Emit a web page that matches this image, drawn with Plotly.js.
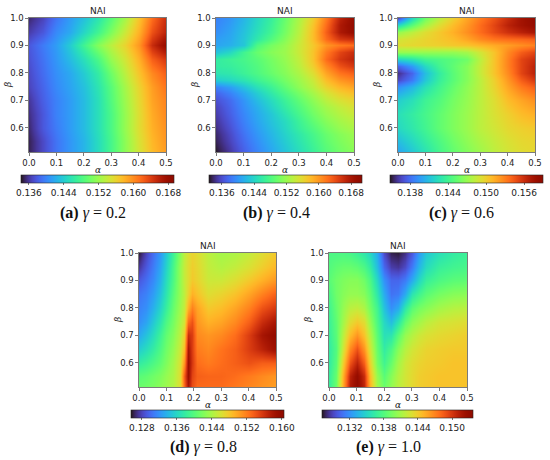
<!DOCTYPE html>
<html><head><meta charset="utf-8">
<script src="https://cdn.plot.ly/plotly-3.0.1.min.js"></script>
<style>html,body{margin:0;padding:0;background:#fff}#chart{width:550px;height:460px}</style>
</head><body><div id="chart"></div>
<script>
// ---------- data ----------
const alphaTicks = [0, 0.1, 0.2, 0.3, 0.4, 0.5];
const alphaTickText = ['0.0', '0.1', '0.2', '0.3', '0.4', '0.5'];
const betaTicks = [0.6, 0.7, 0.8, 0.9, 1.0];
const betaTickText = ['0.6', '0.7', '0.8', '0.9', '1.0'];
const panelLabels = ['a', 'b', 'c', 'd', 'e'];
const gammaValues = ['0.2', '0.4', '0.6', '0.8', '1.0'];

const alphaA = [0, 0.05, 0.1, 0.15, 0.2, 0.25, 0.3, 0.35, 0.4, 0.45, 0.5];
const betaA = [0.5, 0.55, 0.6, 0.65, 0.7, 0.75, 0.8, 0.85, 0.9, 0.95, 1.0];
const naiA = [
 [0.1349,0.1370,0.1391,0.1409,0.1426,0.1451,0.1479,0.1514,0.1546,0.1574,0.1591],
 [0.1349,0.1370,0.1391,0.1409,0.1426,0.1451,0.1479,0.1514,0.1549,0.1577,0.1595],
 [0.1353,0.1377,0.1395,0.1412,0.1430,0.1454,0.1482,0.1518,0.1553,0.1581,0.1598],
 [0.1356,0.1377,0.1398,0.1412,0.1430,0.1454,0.1482,0.1518,0.1553,0.1584,0.1602],
 [0.1360,0.1381,0.1398,0.1412,0.1430,0.1454,0.1486,0.1521,0.1556,0.1588,0.1605],
 [0.1367,0.1384,0.1402,0.1416,0.1433,0.1458,0.1489,0.1525,0.1560,0.1591,0.1612],
 [0.1370,0.1388,0.1405,0.1419,0.1440,0.1465,0.1500,0.1535,0.1570,0.1602,0.1623],
 [0.1374,0.1391,0.1409,0.1430,0.1454,0.1482,0.1518,0.1546,0.1581,0.1623,0.1644],
 [0.1377,0.1395,0.1412,0.1440,0.1475,0.1510,0.1535,0.1560,0.1595,0.1651,0.1682],
 [0.1363,0.1377,0.1402,0.1419,0.1447,0.1475,0.1507,0.1542,0.1581,0.1630,0.1658],
 [0.1353,0.1367,0.1391,0.1412,0.1433,0.1458,0.1489,0.1525,0.1570,0.1616,0.1651]
];

const alphaB = [0, 0.05, 0.1, 0.15, 0.2, 0.25, 0.3, 0.35, 0.4, 0.45, 0.5];
const betaB = [0.5, 0.525, 0.55, 0.575, 0.6, 0.625, 0.65, 0.675, 0.7, 0.725, 0.75,
               0.775, 0.8, 0.825, 0.85, 0.875, 0.9, 0.925, 0.95, 0.975, 1.0];
const naiB = [
 [0.1328,0.1347,0.1370,0.1389,0.1408,0.1427,0.1445,0.1464,0.1483,0.1499,0.1510],
 [0.1332,0.1351,0.1373,0.1392,0.1411,0.1430,0.1449,0.1468,0.1487,0.1502,0.1514],
 [0.1336,0.1355,0.1377,0.1396,0.1415,0.1434,0.1453,0.1472,0.1491,0.1506,0.1518],
 [0.1339,0.1358,0.1381,0.1400,0.1419,0.1438,0.1457,0.1476,0.1495,0.1510,0.1521],
 [0.1343,0.1362,0.1385,0.1404,0.1423,0.1442,0.1464,0.1483,0.1502,0.1518,0.1529],
 [0.1347,0.1366,0.1389,0.1408,0.1427,0.1445,0.1468,0.1491,0.1510,0.1525,0.1536],
 [0.1351,0.1370,0.1392,0.1411,0.1430,0.1453,0.1476,0.1499,0.1518,0.1533,0.1544],
 [0.1355,0.1373,0.1396,0.1415,0.1438,0.1461,0.1483,0.1506,0.1525,0.1540,0.1552],
 [0.1362,0.1377,0.1400,0.1423,0.1445,0.1468,0.1491,0.1514,0.1536,0.1552,0.1563],
 [0.1373,0.1389,0.1411,0.1434,0.1457,0.1480,0.1502,0.1525,0.1548,0.1567,0.1578],
 [0.1389,0.1404,0.1427,0.1449,0.1468,0.1491,0.1514,0.1536,0.1563,0.1582,0.1593],
 [0.1434,0.1442,0.1453,0.1468,0.1483,0.1502,0.1521,0.1544,0.1578,0.1601,0.1612],
 [0.1453,0.1457,0.1468,0.1480,0.1495,0.1510,0.1529,0.1555,0.1593,0.1620,0.1631],
 [0.1461,0.1464,0.1472,0.1483,0.1499,0.1514,0.1536,0.1567,0.1608,0.1639,0.1654],
 [0.1461,0.1468,0.1476,0.1487,0.1502,0.1518,0.1540,0.1574,0.1624,0.1654,0.1669],
 [0.1427,0.1442,0.1472,0.1495,0.1510,0.1521,0.1544,0.1574,0.1616,0.1646,0.1662],
 [0.1408,0.1415,0.1430,0.1480,0.1502,0.1518,0.1544,0.1571,0.1601,0.1616,0.1624],
 [0.1404,0.1411,0.1430,0.1457,0.1483,0.1510,0.1540,0.1578,0.1624,0.1654,0.1662],
 [0.1396,0.1408,0.1427,0.1449,0.1472,0.1502,0.1536,0.1578,0.1631,0.1677,0.1696],
 [0.1392,0.1404,0.1423,0.1445,0.1468,0.1499,0.1533,0.1574,0.1624,0.1677,0.1699],
 [0.1389,0.1400,0.1419,0.1442,0.1464,0.1495,0.1529,0.1567,0.1616,0.1669,0.1696]
];

const alphaC = [0, 0.05, 0.1, 0.15, 0.2, 0.25, 0.3, 0.35, 0.4, 0.45, 0.5];
const betaC = [0.5, 0.55, 0.6, 0.65, 0.7, 0.75, 0.775, 0.8, 0.825, 0.85, 0.875, 0.9, 0.925, 0.95, 0.975, 1.0];
const naiC = [
 [0.1396,0.1411,0.1425,0.1440,0.1452,0.1462,0.1471,0.1481,0.1488,0.1493,0.1496],
 [0.1409,0.1421,0.1433,0.1445,0.1457,0.1467,0.1476,0.1484,0.1491,0.1496,0.1498],
 [0.1421,0.1430,0.1440,0.1452,0.1462,0.1471,0.1481,0.1488,0.1496,0.1500,0.1503],
 [0.1425,0.1433,0.1442,0.1452,0.1462,0.1471,0.1481,0.1491,0.1500,0.1508,0.1513],
 [0.1416,0.1425,0.1438,0.1447,0.1459,0.1469,0.1481,0.1493,0.1508,0.1517,0.1525],
 [0.1392,0.1406,0.1425,0.1440,0.1454,0.1467,0.1481,0.1498,0.1517,0.1532,0.1542],
 [0.1367,0.1384,0.1413,0.1435,0.1450,0.1464,0.1481,0.1500,0.1522,0.1542,0.1556],
 [0.1358,0.1377,0.1409,0.1433,0.1450,0.1464,0.1484,0.1505,0.1527,0.1551,0.1566],
 [0.1377,0.1396,0.1421,0.1440,0.1452,0.1464,0.1484,0.1505,0.1530,0.1551,0.1566],
 [0.1421,0.1428,0.1440,0.1445,0.1450,0.1457,0.1481,0.1505,0.1530,0.1551,0.1561],
 [0.1469,0.1469,0.1469,0.1469,0.1469,0.1474,0.1488,0.1505,0.1527,0.1542,0.1551],
 [0.1493,0.1496,0.1498,0.1500,0.1503,0.1505,0.1510,0.1515,0.1520,0.1525,0.1530],
 [0.1488,0.1493,0.1498,0.1503,0.1508,0.1517,0.1527,0.1534,0.1537,0.1539,0.1542],
 [0.1469,0.1481,0.1493,0.1503,0.1513,0.1525,0.1537,0.1549,0.1559,0.1566,0.1573],
 [0.1421,0.1450,0.1474,0.1493,0.1508,0.1522,0.1537,0.1551,0.1566,0.1575,0.1583],
 [0.1367,0.1421,0.1457,0.1481,0.1500,0.1517,0.1532,0.1546,0.1561,0.1575,0.1585]
];

const alphaD = [0, 0.025, 0.05, 0.075, 0.1, 0.125, 0.15, 0.165, 0.18, 0.195, 0.21, 0.25, 0.3, 0.35, 0.4, 0.45, 0.5];
const betaD = [0.5, 0.55, 0.6, 0.65, 0.7, 0.75, 0.8, 0.85, 0.9, 0.95, 1.0];
const naiD = [
 [0.1413,0.1416,0.1420,0.1427,0.1434,0.1444,0.1465,0.1528,0.1577,0.1542,0.1528,0.1528,0.1528,0.1521,0.1514,0.1507,0.1500],
 [0.1402,0.1406,0.1413,0.1420,0.1430,0.1441,0.1465,0.1535,0.1588,0.1549,0.1535,0.1532,0.1532,0.1528,0.1521,0.1514,0.1507],
 [0.1378,0.1385,0.1395,0.1406,0.1420,0.1437,0.1462,0.1507,0.1588,0.1556,0.1528,0.1521,0.1528,0.1535,0.1542,0.1535,0.1535],
 [0.1353,0.1364,0.1378,0.1395,0.1413,0.1430,0.1455,0.1486,0.1581,0.1553,0.1521,0.1514,0.1525,0.1535,0.1553,0.1570,0.1588],
 [0.1332,0.1346,0.1364,0.1385,0.1406,0.1423,0.1448,0.1472,0.1563,0.1553,0.1514,0.1507,0.1514,0.1528,0.1553,0.1581,0.1598],
 [0.1318,0.1329,0.1350,0.1371,0.1395,0.1416,0.1441,0.1458,0.1528,0.1542,0.1507,0.1493,0.1500,0.1514,0.1535,0.1563,0.1581],
 [0.1311,0.1318,0.1336,0.1357,0.1381,0.1409,0.1434,0.1451,0.1493,0.1518,0.1500,0.1479,0.1486,0.1500,0.1518,0.1542,0.1556],
 [0.1304,0.1311,0.1325,0.1346,0.1371,0.1402,0.1430,0.1448,0.1472,0.1493,0.1483,0.1465,0.1472,0.1483,0.1500,0.1518,0.1535],
 [0.1290,0.1301,0.1315,0.1336,0.1364,0.1395,0.1430,0.1451,0.1465,0.1479,0.1472,0.1455,0.1455,0.1465,0.1479,0.1493,0.1507],
 [0.1273,0.1290,0.1308,0.1329,0.1357,0.1392,0.1430,0.1451,0.1465,0.1476,0.1469,0.1451,0.1444,0.1451,0.1462,0.1476,0.1490],
 [0.1259,0.1280,0.1301,0.1322,0.1350,0.1385,0.1423,0.1448,0.1462,0.1472,0.1465,0.1448,0.1437,0.1441,0.1451,0.1465,0.1479]
];

const alphaE = [0, 0.025, 0.05, 0.075, 0.1, 0.125, 0.15, 0.175, 0.2, 0.225, 0.25, 0.275, 0.3, 0.325, 0.35, 0.4, 0.45, 0.5];
const betaE = [0.5, 0.55, 0.6, 0.65, 0.7, 0.75, 0.8, 0.85, 0.9, 0.95, 1.0];
const naiE = [
 [0.1367,0.1391,0.1457,0.1516,0.1532,0.1510,0.1452,0.1409,0.1391,0.1404,0.1417,0.1425,0.1433,0.1439,0.1441,0.1444,0.1444,0.1444],
 [0.1367,0.1388,0.1452,0.1510,0.1529,0.1505,0.1447,0.1404,0.1383,0.1399,0.1415,0.1425,0.1433,0.1439,0.1441,0.1444,0.1444,0.1444],
 [0.1364,0.1383,0.1439,0.1489,0.1510,0.1484,0.1436,0.1393,0.1372,0.1388,0.1409,0.1423,0.1431,0.1436,0.1439,0.1441,0.1444,0.1444],
 [0.1364,0.1380,0.1425,0.1468,0.1489,0.1463,0.1425,0.1388,0.1364,0.1377,0.1399,0.1415,0.1425,0.1431,0.1436,0.1439,0.1441,0.1441],
 [0.1367,0.1383,0.1417,0.1447,0.1463,0.1444,0.1415,0.1383,0.1356,0.1359,0.1383,0.1404,0.1415,0.1423,0.1428,0.1433,0.1436,0.1439],
 [0.1369,0.1385,0.1409,0.1431,0.1441,0.1431,0.1404,0.1377,0.1351,0.1338,0.1359,0.1385,0.1401,0.1409,0.1417,0.1425,0.1428,0.1431],
 [0.1372,0.1388,0.1404,0.1417,0.1420,0.1412,0.1393,0.1372,0.1340,0.1319,0.1330,0.1361,0.1383,0.1393,0.1399,0.1409,0.1415,0.1417],
 [0.1377,0.1391,0.1399,0.1404,0.1404,0.1399,0.1385,0.1361,0.1330,0.1308,0.1311,0.1330,0.1359,0.1372,0.1383,0.1393,0.1399,0.1401],
 [0.1383,0.1391,0.1396,0.1399,0.1399,0.1391,0.1377,0.1351,0.1319,0.1303,0.1303,0.1311,0.1330,0.1351,0.1367,0.1377,0.1383,0.1385],
 [0.1380,0.1385,0.1388,0.1388,0.1385,0.1377,0.1364,0.1338,0.1303,0.1287,0.1284,0.1292,0.1311,0.1335,0.1353,0.1367,0.1372,0.1375],
 [0.1377,0.1377,0.1377,0.1375,0.1369,0.1361,0.1351,0.1330,0.1292,0.1276,0.1274,0.1282,0.1298,0.1324,0.1343,0.1356,0.1364,0.1369]
];

const cbRanges = [[0.1342, 0.1693], [0.1328, 0.1707], [0.1348, 0.1590], [0.1255, 0.1605], [0.1271, 0.1537]];
const cbTicksA = [0.136, 0.144, 0.152, 0.160, 0.168];
const cbTicksB = [0.136, 0.144, 0.152, 0.160, 0.168];
const cbTicksC = [0.138, 0.144, 0.150, 0.156];
const cbTicksD = [0.128, 0.136, 0.144, 0.152, 0.160];
const cbTicksE = [0.132, 0.138, 0.144, 0.150];

// ---------- turbo colour scale (d3 polynomial approximation) ----------
function turboRGB(t) {
  const c = v => Math.max(0, Math.min(255, Math.round(v)));
  const r = c(34.61 + t * (1172.33 - t * (10793.56 - t * (33300.12 - t * (38394.49 - t * 14825.05)))));
  const g = c(23.31 + t * (557.33 + t * (1225.33 - t * (3574.96 - t * (1073.77 + t * 707.56)))));
  const b = c(27.2 + t * (3211.1 - t * (15327.97 - t * (27814 - t * (22569.18 - t * 6838.66)))));
  return 'rgb(' + r + ',' + g + ',' + b + ')';
}
const turbo = [];
for (let i = 0; i <= 40; i++) turbo.push([i / 40, turboRGB(i / 40)]);

// ---------- layout geometry (pixels) ----------
const W = 550, H = 460;
const panels = [
  {x0: 29, x1: 166, y0: 18, y1: 152, cb0: 21, cb1: 174, cbTop: 175, cap: 93, capY: 213},
  {x0: 216, x1: 354, y0: 18, y1: 152, cb0: 209, cb1: 362, cbTop: 175, cap: 276, capY: 213},
  {x0: 398, x1: 535, y0: 18, y1: 152, cb0: 390, cb1: 543, cbTop: 175, cap: 461, capY: 213},
  {x0: 139, x1: 276, y0: 253, y1: 387, cb0: 131, cb1: 284, cbTop: 410, cap: 203, capY: 447},
  {x0: 329, x1: 467, y0: 253, y1: 387, cb0: 322, cb1: 473, cbTop: 410, cap: 388, capY: 447}
];
const px = v => v / W, py = v => 1 - v / H;

const datasets = [
  [alphaA, betaA, naiA, cbTicksA],
  [alphaB, betaB, naiB, cbTicksB],
  [alphaC, betaC, naiC, cbTicksC],
  [alphaD, betaD, naiD, cbTicksD],
  [alphaE, betaE, naiE, cbTicksE]
];

const tickFont = {family: 'DejaVu Sans', size: 8.5, color: '#222'};
const cbFont = {family: 'DejaVu Sans', size: 9, color: '#222'};
const traces = [];
const layout = {
  width: W, height: H, margin: {l: 0, r: 0, t: 0, b: 0},
  paper_bgcolor: '#fff', plot_bgcolor: '#fff', showlegend: false,
  annotations: []
};

datasets.forEach((d, i) => {
  const p = panels[i];
  const n = i === 0 ? '' : String(i + 1);
  const cbTicks = d[3];
  traces.push({
    type: 'heatmap', x: d[0], y: d[1], z: d[2],
    xaxis: 'x' + n, yaxis: 'y' + n,
    zsmooth: 'best', colorscale: turbo,
    zmin: cbRanges[i][0], zmax: cbRanges[i][1],
    hoverinfo: 'skip',
    colorbar: {
      orientation: 'h', x: px((p.cb0 + p.cb1) / 2), xanchor: 'center',
      y: py(p.cbTop), yanchor: 'top', len: (p.cb1 - p.cb0) / W, lenmode: 'fraction',
      thickness: 8, thicknessmode: 'pixels', xpad: 0, ypad: 0,
      outlinewidth: 0.6, outlinecolor: '#222',
      tickvals: cbTicks, ticktext: cbTicks.map(v => v.toFixed(3)),
      ticks: 'outside', ticklen: 2, tickwidth: 0.6, tickcolor: '#222',
      tickfont: cbFont
    }
  });
  layout['xaxis' + n] = {
    domain: [px(p.x0), px(p.x1)], anchor: 'y' + n, range: [0, 0.5],
    tickvals: alphaTicks, ticktext: alphaTickText, ticks: 'outside', ticklen: 3,
    tickwidth: 0.6, tickcolor: '#222', tickfont: tickFont,
    showline: true, mirror: true, linewidth: 0.6, linecolor: '#222',
    showgrid: false, zeroline: false, fixedrange: true
  };
  layout['yaxis' + n] = {
    domain: [py(p.y1), py(p.y0)], anchor: 'x' + n, range: [0.511, 1.0],
    tickvals: betaTicks, ticktext: betaTickText, ticks: 'outside', ticklen: 3,
    tickwidth: 0.6, tickcolor: '#222', tickfont: tickFont,
    showline: true, mirror: true, linewidth: 0.6, linecolor: '#222',
    showgrid: false, zeroline: false, fixedrange: true
  };
  const cx = px((p.x0 + p.x1) / 2);
  layout.annotations.push(
    {xref: 'paper', yref: 'paper', x: cx, y: py(p.y0 - 7), text: 'NAI', showarrow: false,
     xanchor: 'center', yanchor: 'middle', font: {family: 'DejaVu Sans', size: 9, color: '#222'}},
    {xref: 'paper', yref: 'paper', x: cx, y: py(p.y1 + 18), text: '<i>α</i>', showarrow: false,
     xanchor: 'center', yanchor: 'middle', font: {family: 'DejaVu Serif', size: 9, color: '#222'}},
    {xref: 'paper', yref: 'paper', x: px(p.x0 - 21), y: py((p.y0 + p.y1) / 2), text: '<i>β</i>',
     showarrow: false, textangle: -90, xanchor: 'center', yanchor: 'middle',
     font: {family: 'DejaVu Serif', size: 9, color: '#222'}},
    {xref: 'paper', yref: 'paper', x: px(p.cap), y: py(p.capY),
     text: '<b>(' + panelLabels[i] + ')</b> <i>γ</i> = ' + gammaValues[i], showarrow: false,
     xanchor: 'center', yanchor: 'middle', font: {family: 'Liberation Serif', size: 16, color: '#111'}}
  );
});

Plotly.newPlot('chart', traces, layout, {staticPlot: true, displayModeBar: false});
</script>
</body></html>
